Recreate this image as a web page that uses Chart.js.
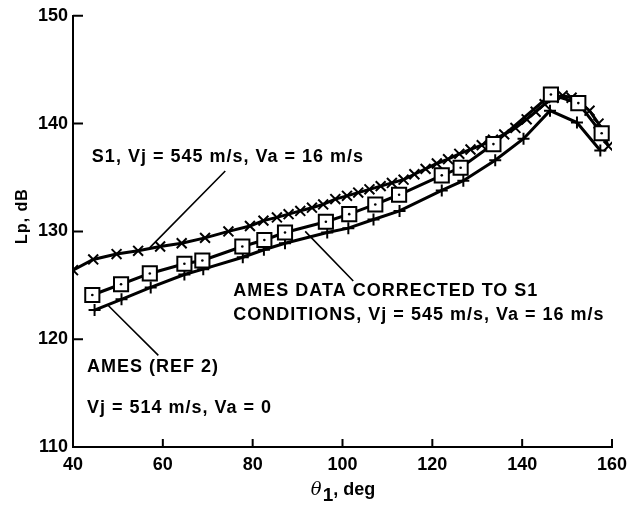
<!DOCTYPE html>
<html><head><meta charset="utf-8">
<script src="https://cdn.jsdelivr.net/npm/chart.js@4.4.1/dist/chart.umd.min.js"></script>
<style>html,body{margin:0;padding:0;background:#fff;}#wrap{width:637px;height:508px;position:relative;}</style>
</head><body><div id="wrap"><canvas id="c" width="637" height="508"></canvas></div>
<script>
// S1, Vj = 545 m/s, Va = 16 m/s  (x markers)
const s1Theta = [40, 44.5, 49.7, 54.5, 59.4, 64.2, 69.4, 74.6, 79.4, 82.4, 85.4, 88, 90.6, 93.2, 95.7, 98.4, 101, 103.5, 106, 108.5, 111, 113.6, 116, 118.5, 121, 123.5, 126, 128.5, 131, 133.5, 136, 138.5, 141, 143, 145, 147, 149, 151, 153, 155, 157, 159.2];
const s1Lp =    [126.4, 127.4, 127.9, 128.2, 128.6, 128.9, 129.4, 130.0, 130.5, 131.0, 131.3, 131.6, 131.9, 132.2, 132.5, 133.0, 133.3, 133.6, 133.9, 134.2, 134.5, 134.8, 135.3, 135.8, 136.3, 136.7, 137.2, 137.6, 138.0, 138.5, 139.0, 139.6, 140.4, 141.1, 141.8, 142.4, 142.6, 142.4, 141.9, 141.2, 140.0, 137.9];
// AMES data corrected to S1 conditions (square markers)
const corrTheta = [44.3, 50.7, 57.1, 64.8, 68.8, 77.7, 82.6, 87.2, 96.3, 101.5, 107.3, 112.6, 122.1, 126.3, 133.6, 146.4, 152.5, 157.7];
const corrLp =    [124.1, 125.1, 126.1, 127.0, 127.3, 128.6, 129.2, 129.9, 130.9, 131.6, 132.5, 133.4, 135.2, 135.9, 138.1, 142.7, 141.9, 139.1];
// AMES (REF 2), Vj = 514 m/s, Va = 0 (+ markers)
const amesTheta = [44.8, 50.8, 57.3, 64.8, 69.0, 77.8, 82.5, 87.2, 96.6, 101.3, 106.9, 112.7, 122.1, 126.9, 134.0, 140.3, 146.2, 152.2, 157.4];
const amesLp =    [122.7, 123.7, 124.8, 126.0, 126.5, 127.6, 128.3, 128.9, 129.9, 130.3, 131.1, 131.9, 133.8, 134.7, 136.6, 138.6, 141.2, 140.1, 137.5];

const xTicks = [40, 60, 80, 100, 120, 140, 160];
const yTicks = [110, 120, 130, 140, 150];
const yTitle = 'Lp, dB';
const xTitleSym = 'θ', xTitleSub = '1', xTitleRest = ', deg';

const s1Label = 'S1, Vj = 545 m/s, Va = 16 m/s';
const corrLabel1 = 'AMES DATA CORRECTED TO S1';
const corrLabel2 = 'CONDITIONS, Vj = 545 m/s, Va = 16 m/s';
const amesLabel1 = 'AMES (REF 2)';
const amesLabel2 = 'Vj = 514 m/s, Va = 0';

const pts = (xs, ys) => xs.map((v, i) => ({x: v, y: ys[i]}));
const FONT = '"Liberation Sans", Arial, Helvetica, sans-serif';

const overlay = {
  id: 'overlay',
  afterDraw(chart) {
    const {ctx, scales: {x, y}} = chart;
    const X = v => x.getPixelForValue(v), Y = v => y.getPixelForValue(v);
    ctx.save();
    ctx.strokeStyle = '#000'; ctx.lineWidth = 2;
    ctx.beginPath();
    yTicks.forEach(v => { ctx.moveTo(x.left, Y(v)); ctx.lineTo(x.left + 10, Y(v)); });
    xTicks.forEach(v => { ctx.moveTo(X(v), y.bottom); ctx.lineTo(X(v), y.bottom - 8); });
    ctx.stroke();
    ctx.lineWidth = 1.6;
    ctx.beginPath();
    ctx.moveTo(X(73.9), Y(135.6)); ctx.lineTo(X(57.1), Y(128.5));
    ctx.moveTo(X(91.7), Y(130.0)); ctx.lineTo(X(102.4), Y(125.4));
    ctx.moveTo(X(47.9), Y(123.1)); ctx.lineTo(X(59.0), Y(118.5));
    ctx.stroke();
    ctx.fillStyle = '#000';
    ctx.font = 'bold 18px ' + FONT;
    try { ctx.letterSpacing = '1px'; } catch (e) {}
    ctx.textBaseline = 'middle'; ctx.textAlign = 'left';
    ctx.fillText(s1Label, X(44.2), Y(136.9));
    ctx.fillText(corrLabel1, X(75.7), Y(124.5));
    ctx.fillText(corrLabel2, X(75.7), Y(122.2));
    ctx.fillText(amesLabel1, X(43.1), Y(117.4));
    ctx.fillText(amesLabel2, X(43.1), Y(113.6));
    ctx.save();
    ctx.translate(23, 216);
    ctx.rotate(-Math.PI / 2);
    ctx.textAlign = 'center';
    ctx.font = 'bold 16px ' + FONT;
    ctx.fillText(yTitle, 0, 0);
    ctx.restore();
    try { ctx.letterSpacing = '0px'; } catch (e) {}
    const cx = (x.left + x.right) / 2;
    ctx.textBaseline = 'alphabetic';
    const f1 = 'italic 18px "DejaVu Serif", serif', f2 = 'bold 19px ' + FONT, f3 = 'bold 18px ' + FONT;
    ctx.font = f1; const w1 = ctx.measureText(xTitleSym).width;
    ctx.font = f2; const w2 = ctx.measureText(xTitleSub).width;
    ctx.font = f3; const w3 = ctx.measureText(xTitleRest).width;
    let sx = cx - (w1 + w2 + w3) / 2;
    const base = 495;
    ctx.font = f1; ctx.fillText(xTitleSym, sx, base); sx += w1 + 1;
    ctx.font = f2; ctx.fillText(xTitleSub, sx, base + 6); sx += w2;
    ctx.font = f3; ctx.fillText(xTitleRest, sx, base);
    ctx.restore();
  }
};

new Chart(document.getElementById('c'), {
  type: 'scatter',
  data: {
    datasets: [
      { label: 'corr dots', data: pts(corrTheta, corrLp), showLine: false, pointStyle: 'circle',
        pointRadius: 1.3, pointBackgroundColor: '#000', pointBorderWidth: 0, order: 0 },
      { label: 'AMES corrected', data: pts(corrTheta, corrLp), showLine: true, borderColor: '#000',
        borderWidth: 3, pointStyle: 'rect', pointRadius: 10, pointBackgroundColor: '#fff',
        pointBorderColor: '#000', pointBorderWidth: 2, order: 1 },
      { label: 'S1', data: pts(s1Theta, s1Lp), showLine: true, borderColor: '#000', borderWidth: 3,
        pointStyle: 'crossRot', pointRadius: 7, pointBorderColor: '#000', pointBorderWidth: 2, order: 2 },
      { label: 'AMES ref 2', data: pts(amesTheta, amesLp), showLine: true, borderColor: '#000', borderWidth: 3,
        pointStyle: 'cross', pointRadius: 6, pointBorderColor: '#000', pointBorderWidth: 2, order: 3 }
    ]
  },
  options: {
    responsive: false, animation: false, devicePixelRatio: 1,
    layout: { padding: { left: 0, right: 25, top: 13, bottom: 0 } },
    plugins: { legend: { display: false }, tooltip: { enabled: false } },
    elements: { line: { tension: 0 } },
    scales: {
      x: {
        type: 'linear', min: 40, max: 160,
        afterBuildTicks: s => { s.ticks = xTicks.map(v => ({value: v})); },
        afterFit: s => { s.height = 61; },
        ticks: { color: '#000', font: { family: FONT, weight: 'bold', size: 18 }, padding: 7, maxRotation: 0 },
        grid: { display: false, drawTicks: false },
        border: { display: true, color: '#000', width: 2 }
      },
      y: {
        type: 'linear', min: 110, max: 150,
        afterBuildTicks: s => { s.ticks = yTicks.map(v => ({value: v})); },
        afterFit: s => { s.width = 73; },
        ticks: { color: '#000', font: { family: FONT, weight: 'bold', size: 18 }, padding: 5 },
        grid: { display: false, drawTicks: false },
        border: { display: true, color: '#000', width: 2 }
      }
    }
  },
  plugins: [overlay]
});
</script></body></html>
